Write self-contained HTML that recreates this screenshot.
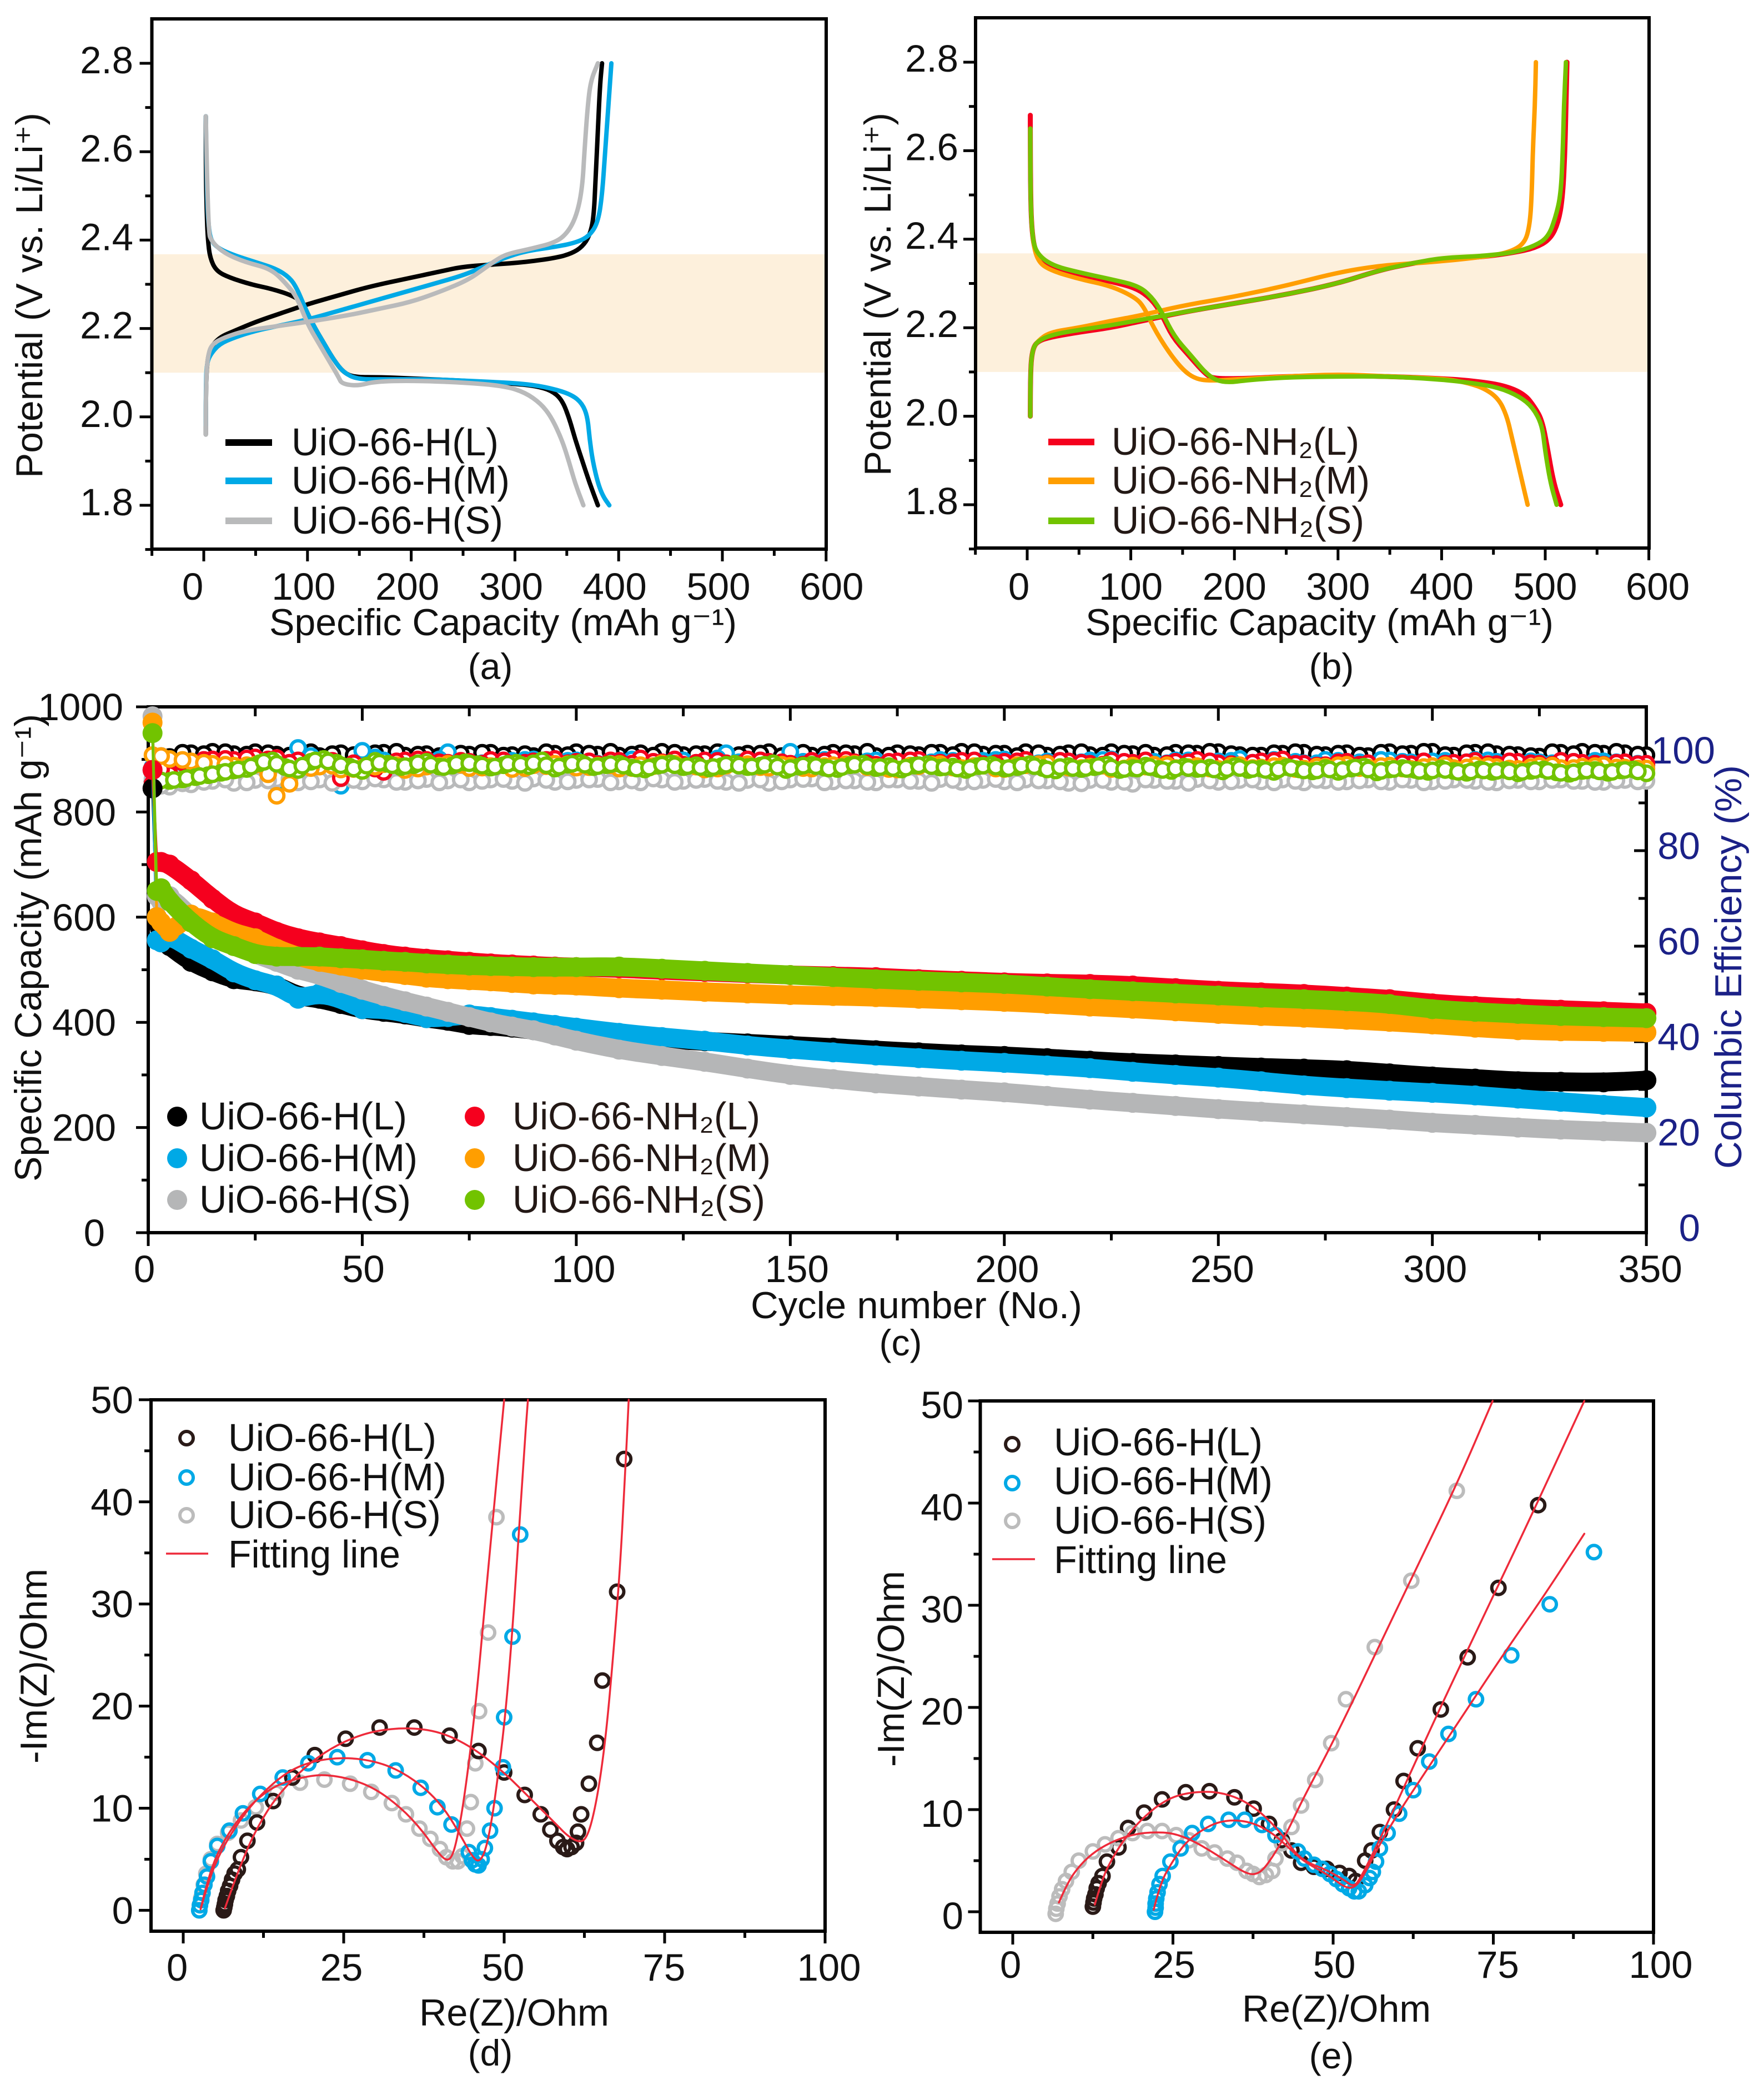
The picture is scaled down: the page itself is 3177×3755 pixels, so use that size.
<!DOCTYPE html>
<html lang="en">
<head>
<meta charset="utf-8">
<title>UiO-66 electrochemical performance</title>
<style>
html,body{margin:0;padding:0;background:#fff;}
svg{display:block;font-family:"Liberation Sans",Arial,sans-serif;}
text{fill:#111;}
.tk{font-size:69px;}
.ttl{font-size:68px;}
.cap{font-size:66px;}
.leg{font-size:70px;}
.nh{fill:#231815;}
.blu{fill:#1b2187;}
</style>
</head>
<body>
<svg id="fig" xmlns="http://www.w3.org/2000/svg" width="3177" height="3755" viewBox="0 0 3177 3755">
<rect width="3177" height="3755" fill="#fff"/>

<g id="pa"></g>
<g id="pb"></g>
<g id="pc"></g>
<g id="pd"></g>
<g id="pe"></g>

<!-- Panel a titles and legend -->
<text class="ttl" transform="translate(76,861) rotate(-90)" textLength="658" lengthAdjust="spacingAndGlyphs">Potential (V vs. Li/Li⁺)</text>
<text class="ttl" x="485" y="1144" textLength="842" lengthAdjust="spacingAndGlyphs">Specific Capacity (mAh g⁻¹)</text>
<text class="cap" x="883" y="1223" text-anchor="middle">(a)</text>
<line x1="406" x2="490" y1="797" y2="797" stroke="#000" stroke-width="12"/>
<line x1="406" x2="490" y1="866" y2="866" stroke="#00a9e6" stroke-width="12"/>
<line x1="406" x2="490" y1="938" y2="938" stroke="#b9babb" stroke-width="12"/>
<text class="leg" x="525" y="820" textLength="373" lengthAdjust="spacingAndGlyphs">UiO-66-H(L)</text>
<text class="leg" x="525" y="889" textLength="393" lengthAdjust="spacingAndGlyphs">UiO-66-H(M)</text>
<text class="leg" x="525" y="961" textLength="381" lengthAdjust="spacingAndGlyphs">UiO-66-H(S)</text>

<!-- Panel b titles and legend -->
<text class="ttl" transform="translate(1604,857) rotate(-90)" textLength="654" lengthAdjust="spacingAndGlyphs">Potential (V vs. Li/Li⁺)</text>
<text class="ttl" x="1955" y="1144" textLength="843" lengthAdjust="spacingAndGlyphs">Specific Capacity (mAh g⁻¹)</text>
<text class="cap" x="2398" y="1223" text-anchor="middle">(b)</text>
<line x1="1888" x2="1971" y1="796" y2="796" stroke="#f5001e" stroke-width="12"/>
<line x1="1888" x2="1971" y1="866" y2="866" stroke="#ff9e00" stroke-width="12"/>
<line x1="1888" x2="1971" y1="938" y2="938" stroke="#72c300" stroke-width="12"/>
<text class="leg nh" x="2002" y="819" textLength="446" lengthAdjust="spacingAndGlyphs">UiO-66-NH₂(L)</text>
<text class="leg nh" x="2002" y="889" textLength="465" lengthAdjust="spacingAndGlyphs">UiO-66-NH₂(M)</text>
<text class="leg nh" x="2002" y="961" textLength="455" lengthAdjust="spacingAndGlyphs">UiO-66-NH₂(S)</text>

<!-- Panel c titles and legend -->
<text class="ttl" transform="translate(74,2128) rotate(-90)" textLength="842" lengthAdjust="spacingAndGlyphs">Specific Capacity (mAh g⁻¹)</text>
<text class="ttl blu" transform="translate(3136,2105) rotate(-90)" textLength="727" lengthAdjust="spacingAndGlyphs">Columbic Efficiency (%)</text>
<text class="ttl" x="1352" y="2374" textLength="597" lengthAdjust="spacingAndGlyphs">Cycle number (No.)</text>
<text class="cap" x="1622" y="2441" text-anchor="middle">(c)</text>
<circle cx="319" cy="2011" r="18" fill="#000"/>
<circle cx="319" cy="2086" r="18" fill="#00a9e6"/>
<circle cx="319" cy="2161" r="18" fill="#b5b6b7"/>
<circle cx="855" cy="2011" r="18" fill="#f5001e"/>
<circle cx="855" cy="2086" r="18" fill="#ff9e00"/>
<circle cx="855" cy="2161" r="18" fill="#72c300"/>
<text class="leg" x="359" y="2034" textLength="374" lengthAdjust="spacingAndGlyphs">UiO-66-H(L)</text>
<text class="leg" x="359" y="2109" textLength="393" lengthAdjust="spacingAndGlyphs">UiO-66-H(M)</text>
<text class="leg" x="359" y="2184" textLength="381" lengthAdjust="spacingAndGlyphs">UiO-66-H(S)</text>
<text class="leg nh" x="923" y="2034" textLength="446" lengthAdjust="spacingAndGlyphs">UiO-66-NH₂(L)</text>
<text class="leg nh" x="923" y="2109" textLength="465" lengthAdjust="spacingAndGlyphs">UiO-66-NH₂(M)</text>
<text class="leg nh" x="923" y="2184" textLength="455" lengthAdjust="spacingAndGlyphs">UiO-66-NH₂(S)</text>

<!-- Panel d titles and legend -->
<text class="ttl" transform="translate(84,3176) rotate(-90)" textLength="351" lengthAdjust="spacingAndGlyphs">-Im(Z)/Ohm</text>
<text class="ttl" x="755" y="3648" textLength="342" lengthAdjust="spacingAndGlyphs">Re(Z)/Ohm</text>
<text class="cap" x="883" y="3720" text-anchor="middle">(d)</text>
<circle cx="336" cy="2590" r="12" fill="none" stroke="#2a1a17" stroke-width="6"/>
<circle cx="336" cy="2661" r="12" fill="none" stroke="#00a9e6" stroke-width="6"/>
<circle cx="336" cy="2729" r="12" fill="none" stroke="#bcbcbc" stroke-width="6"/>
<line x1="299" x2="375" y1="2798" y2="2798" stroke="#ee2a3a" stroke-width="3.5"/>
<text class="leg" x="411" y="2613" textLength="375" lengthAdjust="spacingAndGlyphs">UiO-66-H(L)</text>
<text class="leg" x="411" y="2684" textLength="393" lengthAdjust="spacingAndGlyphs">UiO-66-H(M)</text>
<text class="leg" x="411" y="2752" textLength="383" lengthAdjust="spacingAndGlyphs">UiO-66-H(S)</text>
<text class="leg" x="411" y="2823" textLength="310" lengthAdjust="spacingAndGlyphs">Fitting line</text>

<!-- Panel e titles and legend -->
<text class="ttl" transform="translate(1628,3182) rotate(-90)" textLength="353" lengthAdjust="spacingAndGlyphs">-Im(Z)/Ohm</text>
<text class="ttl" x="2237" y="3641" textLength="340" lengthAdjust="spacingAndGlyphs">Re(Z)/Ohm</text>
<text class="cap" x="2398" y="3725" text-anchor="middle">(e)</text>
<circle cx="1823" cy="2601" r="12" fill="none" stroke="#2a1a17" stroke-width="6"/>
<circle cx="1823" cy="2671" r="12" fill="none" stroke="#00a9e6" stroke-width="6"/>
<circle cx="1823" cy="2739" r="12" fill="none" stroke="#bcbcbc" stroke-width="6"/>
<line x1="1787" x2="1864" y1="2808" y2="2808" stroke="#ee2a3a" stroke-width="3.5"/>
<text class="leg" x="1898" y="2621" textLength="376" lengthAdjust="spacingAndGlyphs">UiO-66-H(L)</text>
<text class="leg" x="1898" y="2691" textLength="394" lengthAdjust="spacingAndGlyphs">UiO-66-H(M)</text>
<text class="leg" x="1898" y="2762" textLength="383" lengthAdjust="spacingAndGlyphs">UiO-66-H(S)</text>
<text class="leg" x="1898" y="2833" textLength="312" lengthAdjust="spacingAndGlyphs">Fitting line</text>
</svg>

<script>
/* ---------- Panel a data: capacity (mAh/g) and potential (V) ---------- */
const aLDisX=[2,2,3,4,6,12,25,45,65,85,95,105,115,125,135,145,170,200,250,300,320,335,345,352,358,365,372,380];
const aLDisY=[2.68,2.55,2.45,2.40,2.36,2.33,2.315,2.30,2.29,2.275,2.26,2.21,2.17,2.13,2.10,2.09,2.09,2.087,2.082,2.075,2.07,2.06,2.04,2.0,1.95,1.9,1.85,1.80];
const aLChgX=[2,2,3,6,15,30,50,75,100,130,160,200,230,250,280,310,340,355,365,372,376,378,380,382,384];
const aLChgY=[1.96,2.05,2.12,2.155,2.18,2.195,2.215,2.235,2.255,2.275,2.295,2.315,2.33,2.34,2.345,2.35,2.36,2.37,2.385,2.41,2.45,2.55,2.65,2.75,2.80];
const aMDisX=[2,3,5,8,15,30,50,70,83,90,97,105,115,125,135,148,175,220,270,310,335,355,365,370,372,375,380,385,391];
const aMDisY=[2.68,2.50,2.42,2.395,2.38,2.365,2.35,2.335,2.315,2.29,2.25,2.21,2.17,2.13,2.10,2.085,2.085,2.085,2.08,2.075,2.065,2.05,2.03,2.0,1.95,1.90,1.85,1.82,1.80];
const aMChgX=[2,2,3,6,15,30,50,70,100,130,160,190,220,250,270,290,310,340,360,372,380,384,387,390,393];
const aMChgY=[1.98,2.08,2.12,2.14,2.165,2.18,2.195,2.205,2.22,2.24,2.26,2.28,2.30,2.32,2.34,2.36,2.375,2.385,2.395,2.41,2.44,2.5,2.6,2.7,2.8];
const aSDisX=[2,4,8,20,40,65,80,90,100,110,120,130,133,148,165,200,250,290,310,325,335,345,352,358,366];
const aSDisY=[2.68,2.42,2.395,2.37,2.35,2.335,2.30,2.27,2.21,2.17,2.13,2.09,2.075,2.07,2.08,2.082,2.078,2.07,2.055,2.03,2.0,1.95,1.90,1.85,1.80];
const aSChgX=[2,2,4,8,20,40,70,100,140,170,200,230,255,270,285,295,315,340,352,360,365,367,370,373,380];
const aSChgY=[1.96,2.08,2.14,2.165,2.18,2.195,2.205,2.215,2.23,2.245,2.26,2.285,2.31,2.335,2.36,2.37,2.38,2.395,2.42,2.46,2.52,2.6,2.7,2.76,2.80];

/* ---------- Panel b data ---------- */
const bLDisX=[3,3,5,10,25,50,80,105,120,130,140,155,172,180,210,250,300,350,400,430,460,480,490,497,502,508,515];
const bLDisY=[2.68,2.5,2.4,2.36,2.335,2.32,2.305,2.29,2.265,2.23,2.18,2.14,2.095,2.085,2.085,2.09,2.092,2.09,2.085,2.08,2.07,2.05,2.02,1.99,1.93,1.85,1.80];
const bLChgX=[3,3,5,10,25,50,80,110,150,200,250,300,340,370,400,440,470,490,505,513,517,519,520,521];
const bLChgY=[2.0,2.1,2.15,2.17,2.18,2.19,2.2,2.215,2.235,2.255,2.275,2.30,2.33,2.345,2.355,2.36,2.37,2.38,2.40,2.44,2.5,2.6,2.7,2.8];
const bMDisX=[3,3,5,10,22,50,80,103,112,122,135,150,162,175,200,250,300,350,400,420,440,455,463,468,473,478,483];
const bMDisY=[2.65,2.5,2.4,2.35,2.33,2.31,2.295,2.27,2.25,2.20,2.15,2.105,2.085,2.08,2.083,2.09,2.095,2.09,2.085,2.078,2.065,2.04,2.0,1.95,1.90,1.85,1.80];
const bMChgX=[3,3,5,10,22,50,80,110,150,200,250,300,340,370,400,440,465,480,485,487,488,490,491];
const bMChgY=[2.0,2.1,2.15,2.17,2.19,2.2,2.215,2.228,2.25,2.27,2.295,2.325,2.34,2.345,2.35,2.36,2.37,2.39,2.43,2.5,2.6,2.7,2.8];
const bSDisX=[3,3,5,10,25,50,80,107,120,130,142,157,175,190,215,250,300,350,400,430,455,475,488,497,500,505,511];
const bSDisY=[2.65,2.5,2.4,2.365,2.34,2.325,2.31,2.295,2.27,2.235,2.18,2.14,2.09,2.075,2.082,2.088,2.09,2.09,2.083,2.075,2.065,2.045,2.02,1.98,1.92,1.85,1.80];
const bSChgX=[3,3,5,10,25,50,80,110,150,200,250,300,340,370,400,440,470,490,503,510,515,517,518,520];
const bSChgY=[2.0,2.1,2.15,2.17,2.185,2.195,2.205,2.218,2.235,2.255,2.275,2.30,2.33,2.345,2.358,2.362,2.37,2.385,2.405,2.45,2.5,2.6,2.7,2.8];

/* ---------- Panel c data: cycle number, capacity, coulombic efficiency ---------- */
const capCycles=[1,2,3,5,10,15,20,25,30,35,40,45,50,55,60,65,70,75,80,85,90,95,100,110,120,130,140,150,160,170,180,190,200,210,220,230,240,250,260,270,280,290,300,310,320,330,340,350];
const capHL=[845,600,560,545,515,497,482,478,470,450,445,435,425,420,415,408,403,395,393,390,385,381,378,373,368,364,360,356,352,347,343,339,336,332,327,323,320,317,314,312,309,303,297,293,288,287,286,290];
const capHM=[880,556,552,565,540,520,495,480,470,445,455,445,425,425,418,408,410,415,410,405,400,395,390,380,372,365,356,349,343,337,332,327,323,318,313,306,300,295,288,280,275,270,266,261,255,249,243,238];
const capHS=[982,640,630,640,600,565,545,530,515,500,490,475,462,450,440,430,420,410,400,392,385,375,365,348,336,325,312,300,292,284,278,272,267,260,253,247,241,235,230,225,220,215,209,205,200,196,193,190];
const capNL=[880,705,705,700,670,635,605,590,572,560,552,545,537,530,525,521,518,515,512,510,508,506,505,503,499,496,493,490,488,486,482,479,476,474,473,470,465,460,457,454,449,444,436,431,427,424,421,418];
const capNM=[970,600,590,572,605,590,570,560,540,525,515,508,500,495,490,485,482,480,478,475,472,471,470,465,462,458,455,452,450,448,445,442,439,435,430,426,421,416,412,409,405,401,396,390,385,383,382,381];
const capNS=[950,650,655,630,590,560,545,530,525,525,525,522,520,517,515,512,510,508,507,506,505,505,505,506,502,498,494,490,486,482,479,476,473,468,463,459,455,451,447,444,440,435,425,420,416,412,410,408];

const ceCycles=[1,5,10,15,20,25,30,35,40,45,50,55,60,65,70,75,80,85,90,95,100,105,110,115,120,125,130,135,140,145,150,155,160,165,170,175,180,185,190,195,200,205,210,215,220,225,230,235,240,245,250,255,260,265,270,275,280,285,290,295,300,305,310,315,320,325,330,335,340,345,350];
const ceHL=[94.5,99.6,100.4,100.7,100.2,100.6,100.1,100.3,99.8,100.4,100.0,100.5,99.9,100.2,99.7,100.1,100.5,100.0,99.8,100.3,100.6,100.1,99.9,100.4,100.7,100.0,100.2,99.8,100.3,100.6,100.1,99.9,100.5,100.2,99.8,100.4,100.0,100.5,100.7,100.1,100.3,100.6,99.9,100.4,100.0,100.6,100.2,99.9,100.5,100.3,100.6,100.0,99.9,100.3,100.5,100.0,100.4,99.8,100.6,100.3,100.7,99.9,100.5,100.2,100.0,99.7,100.5,100.7,100.3,100.4,100.0];
const ceHM=[97.5,98.2,98.6,99.0,98.7,98.3,94.2,101.5,98.8,93.6,100.9,98.9,98.2,98.7,100.6,98.5,98.0,98.8,99.1,98.4,98.9,98.2,98.6,99.0,98.5,98.9,98.2,100.4,98.6,98.3,100.7,98.5,98.8,98.2,98.9,98.4,98.7,99.0,98.3,98.8,99.1,98.4,98.7,98.2,98.9,99.1,98.4,98.6,98.9,98.3,98.7,99.2,98.5,98.8,98.3,99.0,98.6,98.2,98.9,98.5,98.7,98.3,99.0,98.6,98.2,98.5,98.8,98.4,98.7,98.3,97.9];
const ceHS=[95.0,93.4,93.9,94.6,94.2,94.8,95.0,94.3,94.9,95.1,94.5,94.9,94.4,95.0,94.7,94.3,94.9,94.6,95.1,94.4,94.8,95.0,94.5,94.3,94.9,94.6,95.0,94.4,94.8,94.2,94.9,95.1,94.5,94.7,94.3,94.9,94.6,95.0,94.4,94.8,94.5,94.9,94.7,94.2,94.8,94.4,94.0,94.8,94.6,95.0,94.4,94.8,94.5,94.9,94.3,94.7,94.5,94.9,94.4,94.8,94.5,94.9,94.6,94.3,94.8,94.5,94.9,94.6,94.4,94.8,94.6];
const ceNL=[94.0,96.0,98.3,99.1,99.0,99.5,99.4,98.9,98.2,95.2,97.5,96.5,98.9,99.0,98.4,98.6,99.0,98.2,98.7,99.2,98.6,98.1,98.8,99.3,98.5,98.0,98.9,98.3,99.1,98.6,98.2,98.8,99.2,98.5,98.0,98.7,99.0,98.4,98.8,98.1,98.6,99.0,98.3,98.7,98.2,98.9,98.4,97.5,98.6,99.0,98.3,97.8,98.7,99.1,98.2,97.9,98.6,98.3,97.4,98.1,97.2,98.4,98.8,98.1,98.6,98.2,98.8,98.4,98.0,98.5,98.2];
const ceNM=[100.0,99.2,98.7,98.2,97.8,98.0,91.5,97.0,97.6,97.0,97.4,98.1,96.9,97.6,98.2,97.3,97.7,97.1,97.9,98.2,97.4,97.8,97.2,97.9,98.3,97.5,97.0,97.8,98.1,97.4,97.8,97.2,97.9,98.2,97.5,97.0,97.7,98.1,97.3,97.8,97.1,97.9,98.2,97.4,97.6,97.1,97.8,98.0,97.3,97.7,97.1,97.9,97.4,97.8,97.2,97.6,98.0,97.4,97.8,97.1,97.7,97.3,97.9,97.5,97.1,97.8,97.3,97.6,97.9,97.4,97.2];
const ceNS=[95.0,94.6,94.9,95.4,95.8,96.3,96.8,97.1,98.3,98.9,97.5,96.9,98.6,99.2,98.4,97.6,96.7,98.8,98.2,97.5,97.9,98.6,97.6,97.8,98.5,98.1,97.4,97.9,98.4,97.7,98.9,97.2,98.0,98.4,97.5,97.9,98.2,97.4,97.0,97.8,98.3,97.5,97.9,97.2,97.7,98.2,97.5,97.8,98.3,96.9,97.6,98.0,97.4,97.1,97.9,98.2,97.3,97.7,97.0,97.8,98.1,97.4,97.6,96.9,97.7,98.0,97.2,97.5,98.1,97.3,96.8,97.7,97.1,97.5,98.0,96.9,97.3,97.8,97.1,96.7,97.6,97.1,97.4,96.6,97.7,96.9,97.2,96.5,97.5,97.0,96.6,97.3,96.5,97.2,97.6,96.4,97.0,97.3,96.9,96.5,97.2,96.7,96.3,97.0,96.5,96.9,96.2,96.7,97.0,96.4,96.1,96.7,96.9,96.3,96.8,97.0,96.2];
/* In-between cycles of each efficiency series */
const ceHLmid=[99.8,100.5,100.2,100.6,100.1,100.4,99.9,100.6,100.2,100.0,100.4,100.7,100.1,99.8,100.3,100.5,99.9,100.2,100.6,100.0,100.3,100.7,100.1,99.9,100.5,100.2,100.6,100.0,100.3,99.8,100.5,100.1,100.4,100.7,99.9,100.2,100.5,100.0,100.6,100.3,99.8,100.4,100.1,100.6,99.9,100.3,100.5,100.0,100.4,100.7,100.2,99.9,100.4,100.6,100.1,100.3,99.9,100.5,100.2,100.7,100.0,100.4,100.6,100.1,99.8,100.6,100.2,100.5,100.7,100.1];
const ceHMmid=[98.0,98.4,98.8,98.5,98.9,96.0,97.5,99.8,98.0,97.0,99.5,98.6,98.3,99.1,98.7,98.3,98.6,99.0,98.5,98.8,98.3,98.7,99.1,98.4,98.8,98.2,99.3,98.5,98.9,98.3,98.6,99.0,98.4,98.7,98.2,98.9,98.5,98.8,98.3,99.0,98.6,98.3,98.8,98.5,99.0,98.4,98.7,98.3,98.9,98.5,98.8,98.4,99.0,98.6,98.3,98.8,98.5,99.0,98.6,98.3,98.8,98.5,98.9,98.4,98.7,98.3,98.6,98.8,98.5,98.2];
const ceHSmid=[93.6,94.1,94.4,94.9,94.3,94.7,95.0,94.5,94.2,94.8,95.1,94.4,94.7,94.3,94.9,94.6,95.0,94.2,94.8,94.5,94.9,94.3,94.7,95.1,94.4,94.8,94.6,94.2,94.9,94.5,95.0,94.3,94.7,94.4,94.9,94.6,94.2,94.8,94.5,95.0,94.3,94.7,94.5,94.1,94.8,94.4,94.9,94.6,94.2,94.7,94.5,94.9,94.3,94.6,94.8,94.4,94.7,94.5,94.9,94.3,94.6,94.8,94.4,94.7,94.5,94.8,94.6,94.4,94.7,94.5];
const ceNLmid=[97.0,98.5,99.0,99.2,99.3,99.1,98.4,97.9,98.8,98.3,97.2,98.7,99.1,98.5,98.8,98.2,98.9,98.4,99.0,98.3,98.7,98.9,98.2,98.6,99.1,98.4,98.8,98.1,98.9,98.5,98.0,98.7,99.0,98.3,98.6,98.9,98.2,98.5,98.9,98.3,98.7,98.1,98.8,98.4,98.0,98.6,98.9,98.2,98.5,98.7,98.1,98.4,98.8,98.2,97.8,98.5,98.0,97.6,98.3,98.7,98.2,98.5,98.1,98.7,98.3,98.0,98.6,98.2,98.4,98.1];
const ceNMmid=[99.8,99.0,98.4,98.0,97.9,96.0,94.0,97.3,97.8,97.1,97.6,97.9,97.2,97.8,98.0,97.4,97.9,97.3,97.7,98.1,97.5,97.9,97.3,97.7,98.2,97.6,97.2,97.9,97.5,98.0,97.3,97.7,98.1,97.5,97.1,97.8,98.0,97.4,97.7,97.2,97.9,98.1,97.5,97.3,97.8,97.2,97.6,97.9,97.5,97.2,97.8,97.3,97.7,97.1,97.6,97.9,97.3,97.7,97.2,97.5,97.9,97.4,97.7,97.2,97.5,97.8,97.3,97.7,97.4,97.2];
const ceNSmid=[94.7,94.8,95.2,95.6,96.0,96.5,97.0,97.6,98.6,98.2,97.2,97.8,98.9,98.7,97.9,97.2,97.8,98.4,97.9,97.7,98.3,98.0,97.5,98.2,98.3,97.8,97.6,98.2,98.0,98.3,97.9,97.6,98.2,98.0,97.7,98.1,97.8,97.2,97.4,98.0,97.9,97.7,97.5,97.5,98.0,97.8,97.6,98.0,97.6,97.3,97.8,97.7,97.2,97.5,98.0,97.7,97.5,97.3,97.4,97.9,97.7,97.5,97.2,97.3,97.8,97.6,97.3,97.8,97.7,97.0,97.5,97.3,97.3,97.7,97.4,97.1,97.2,97.5,96.9,97.2,97.3,97.2,97.0,97.1,97.3,97.1,96.9,97.0,97.3,96.8,96.8,97.0,96.9,97.4,97.0,96.7,97.1,97.1,96.7,96.8,96.9,96.5,96.6,96.8,96.7,96.6,96.5,96.9,96.7,96.3,96.4,96.8,96.6,96.5,96.9,96.6];

/* ---------- Panel d data: Re(Z), -Im(Z) ---------- */
const dLRe=[6.3,6.4,6.5,6.6,6.8,7,7.3,7.6,8,8.5,9,10,11.5,14,17,20.5,25.3,30.6,36,41.5,46,50,53.2,55.7,57.2,58.3,59.2,59.8,60.5,61.2,61.5,62,63.2,64.5,65.3,67.6,68.7];
const dLIm=[0,0.3,0.6,1,1.4,1.9,2.4,3,3.6,4,5.2,6.8,8.6,10.7,13,15.2,16.8,17.9,17.9,17.1,15.6,13.5,11.3,9.4,7.9,6.8,6.2,6,6.2,6.6,7.7,9.4,12.4,16.4,22.5,31.2,44.2];
const dMRe=[2.5,2.6,2.8,3,3.3,3.7,4.3,5.3,7.2,9.3,12,15.5,19.5,24,28.7,33.1,37,39.6,41.8,44.5,45,45.5,46,46.5,47,47.8,48.5,49.8,50,51.3,52.5];
const dMIm=[0,0.5,1,1.7,2.5,3.3,4.8,6.3,7.8,9.5,11.4,13,14.4,15,14.7,13.7,12,10.1,8.4,5.7,4.9,4.5,4.4,5,6.1,7.8,10,14,18.9,26.8,36.8];
const dSRe=[2.5,2.6,2.8,3.2,3.6,4.3,5.3,7,9,11.3,14.5,18.2,22,26,29.3,32.5,34.7,36.8,38.5,40,41,42,42.8,43.5,44.2,44.8,45.5,46.1,47.5,48.8];
const dSIm=[0,0.5,1.2,2.5,3.6,5,6.5,7.6,8.8,10.1,11.5,12.5,12.8,12.4,11.6,10.5,9.4,8,7,6,5.2,4.8,4.8,5.3,8,10.6,14.4,19.5,27.2,38.5];
const dFitLRe=[6.5,7.5,9,11,14,18,22,26,30,35,40,45,50,54,58,60,62,63,64,65,66,67,68,68.8,69.4];
const dFitLIm=[0.2,2,4.5,7.5,10.7,13.5,15.5,16.8,17.6,17.9,17.5,16,13.5,11,8.5,7.2,6.6,7.3,9.5,13,18,25,33,42,50];
const dFitMRe=[2.8,4,6,9,12,16,20,25,30,34,38,41,43.5,45,46,47,48,49,50,51,52,53,53.7];
const dFitMIm=[0.3,3,6,9,11.3,13.5,14.6,15,14.6,13.6,11.8,9.7,7,5.3,4.7,5.6,8.5,13,18,25,34,44,50];
const dFitSRe=[2.7,4,6,9,12,15,19,22,26,30,34,37,39.5,41,42,43,44,45,46,47,48.5,50];
const dFitSIm=[0.1,3.5,6.5,9.3,11.2,12.4,13.1,13.3,12.9,11.9,10,8,5.8,4.8,5.3,8,12,17,23,30,40,50];

/* ---------- Panel e data ---------- */
const eLRe=[12.5,12.6,12.7,12.9,13.1,13.4,14,14.7,16.5,18,20.5,23.3,27,30.7,34.6,37.6,40,42,43.5,45,47,49,51,52.5,53.5,55,56,57.3,59.5,61,63.2,66.8,71,75.8,82];
const eLIm=[0.5,0.9,1.3,1.7,2.3,2.8,3.5,4.9,6.3,8.2,9.7,11,11.7,11.8,11.2,10.1,8.6,7,6,4.8,4.4,4.2,3.8,3.5,3,5,6,7.8,10,12.8,16,19.8,24.9,31.7,39.8];
const eMRe=[22.2,22.3,22.3,22.4,22.6,22.9,23.4,24.6,26.2,28,30.5,33.7,36.2,38.9,41,44.5,45.5,47,48.3,49.5,50.5,51.5,52.5,53.3,54,55,55.7,56.2,56.7,57.3,58.5,60.3,62.5,65,68,72.3,77.8,83.8,90.7];
const eMIm=[0,0.4,0.8,1.3,1.9,2.7,3.5,4.9,6.2,7.7,8.6,9,9,8.5,7.5,5.9,5.2,4.6,4.2,3.7,3.2,2.7,2.3,2,2,2.6,3.3,3.9,4.9,6.2,7.7,9.6,11.9,14.7,17.4,20.8,25.1,30.1,35.2];
const eSRe=[6.7,6.8,7,7.3,7.7,8.3,9.2,10.3,12.5,14.4,16.5,18.7,21,23.3,25.5,27.5,29.5,31.5,33.5,35,36.5,37.5,38.5,39.5,40.5,41,42,43.5,45,47.2,49.7,52,56.5,62.2,69.3];
const eSIm=[-0.2,0.3,0.8,1.5,2.2,3,3.9,5,5.9,6.6,7.2,7.7,7.9,7.9,7.5,7,6.2,5.8,5.2,4.8,4,3.7,3.4,3.6,4,5.2,6.7,8.3,10.4,12.9,16.5,20.8,25.9,32.4,41.2];
const eFitLRe=[12.8,14,15.5,17.5,20,23,26,30,33,36,39,42,44,46,49,52,53,54,58,62,66,72,80,89.2];
const eFitLIm=[0.7,3.3,5.2,7.2,9,10.6,11.5,11.8,11.6,10.9,9.6,7.6,5.8,4.8,4.1,3,2.5,2.9,8,13.5,19,27,37.5,50];
const eFitMRe=[22,23,25,27,29.5,32,35,38,41,44,46,49,52,53.5,55,57,60,64,70,77,83,89.2];
const eFitMIm=[0.2,2.8,5,6.8,8,8.8,9,8.6,7.5,5.7,4.7,3.7,2.3,2.4,3.8,6.3,9.5,13.3,19,25.6,31,37];
const eFitSRe=[7.2,8.5,10.5,13,16,19,22,25,28,31,34,36,37.5,39,41,43,45,50.3,56.8,62.2,69.2,74.9];
const eFitSIm=[0.9,2.8,4.6,6,7,7.6,7.8,7.7,7,5.9,4.7,3.9,3.6,4,5.8,8,10.7,17,25.5,32.6,41.7,50];

/* ---------- Tick values and labels ---------- */
const abXTicks=[0,100,200,300,400,500,600];
const abXMinor=[-50,50,150,250,350,450,550];
const abXLabels=['0','100','200','300','400','500','600'];
const abYTicks=[1.8,2.0,2.2,2.4,2.6,2.8];
const abYMinor=[1.7,1.9,2.1,2.3,2.5,2.7];
const abYLabels=['1.8','2.0','2.2','2.4','2.6','2.8'];
const bandLow=2.10, bandHigh=2.368;
const cXTicks=[0,50,100,150,200,250,300,350];
const cXMinor=[25,75,125,175,225,275,325];
const cXLabels=['0','50','100','150','200','250','300','350'];
const cYTicks=[0,200,400,600,800,1000];
const cYMinor=[100,300,500,700,900];
const cYLabels=['0','200','400','600','800','1000'];
const ceTicks=[0,20,40,60,80,100];
const ceMinor=[10,30,50,70,90];
const ceLabels=['0','20','40','60','80','100'];
const deXTicks=[0,25,50,75,100];
const deXMinor=[12.5,37.5,62.5,87.5];
const deXLabels=['0','25','50','75','100'];
const deYTicks=[0,10,20,30,40,50];
const deYMinor=[5,15,25,35,45];
const deYLabels=['0','10','20','30','40','50'];

/* ---------- Axis functions ---------- */
const xa=v=>367+v*1.868, ya=v=>114+(2.8-v)*796;
const xb=v=>1850+v*1.866, yb=v=>112+(2.8-v)*797;
const xc=v=>267+v*7.709, yc=v=>2220-v*0.947, yce=v=>2220-v*8.6;
const xd=v=>330+v*11.56, yd=v=>3440.4-v*18.39;
const xe=v=>1824+v*11.54, ye=v=>3443-v*18.4;

const NS='http://www.w3.org/2000/svg';
const BLACK='#000', BLUE='#00a9e6', GREY='#b9babb', RED='#f5001e', ORANGE='#ff9e00', GREEN='#72c300', FIT='#ee2a3a', DARK='#2a1a17', RINGGREY='#bcbcbc', NAVY='#1b2187';

function mk(tag,parent,props){
  const el=document.createElementNS(NS,tag);
  for(const k in props){el.setAttribute(k,props[k]);}
  parent.appendChild(el);
  return el;
}
/* Rounded line through the typed points (corners softened by midpoint quadratics) */
function path(xs,ys,fx,fy){
  const px=xs.map(fx), py=ys.map(fy), n=xs.length;
  let d='M'+px[0].toFixed(1)+' '+py[0].toFixed(1);
  for(let i=1;i<n-1;i++){
    const mx=(px[i]+px[i+1])/2, my=(py[i]+py[i+1])/2;
    d+='Q'+px[i].toFixed(1)+' '+py[i].toFixed(1)+' '+mx.toFixed(1)+' '+my.toFixed(1);
  }
  d+='L'+px[n-1].toFixed(1)+' '+py[n-1].toFixed(1);
  return d;
}
function curve(parent,xs,ys,fx,fy,color,width,name){
  const el=mk('path',parent,{d:path(xs,ys,fx,fy),fill:'none',stroke:color,'stroke-width':width,'stroke-linejoin':'round','stroke-linecap':'round'});
  
  
  return el;
}
function tickLine(parent,x1,y1,x2,y2,color,name){
  const el=mk('line',parent,{x1:x1,y1:y1,x2:x2,y2:y2,stroke:color,'stroke-width':5});
  
  
  return el;
}
function label(parent,x,y,txt,anchor,color,name){
  const el=mk('text',parent,{x:x,y:y,class:'tk','text-anchor':anchor,style:'fill:'+color});
  el.textContent=txt;
  
  
  return el;
}
function frame(parent,l,t,r,b,name){
  const el=mk('rect',parent,{x:l,y:t,width:r-l,height:b-t,fill:'none',stroke:'#000','stroke-width':6});
  
  
  return el;
}
function rings(parent,xs,ys,fx,fy,color,r,sw,fill,name){
  for(let i=0;i<xs.length;i++){
    const c=mk('circle',parent,{cx:fx(xs[i]).toFixed(1),cy:fy(ys[i]).toFixed(1),r:r,fill:fill,stroke:color,'stroke-width':sw});
    
    
  }
}
function dots(parent,xs,ys,fx,fy,color,r,name){
  for(let i=0;i<xs.length;i++){
    const c=mk('circle',parent,{cx:fx(xs[i]).toFixed(1),cy:fy(ys[i]).toFixed(1),r:r,fill:color});
    
    
  }
}

/* Label nudges (pixels) reproducing the source figure's hand-placed tick labels */
const nudgeAX={0:-20,600:10}, nudgeBX={0:-15,600:16};
const nudgeCX={0:-7,50:2,100:13,150:12,200:5,250:7,300:5,350:7};
const nudgeDX={0:-11,25:-4,50:-2,75:-1,100:7};
const nudgeEX={0:-4,25:2,50:2,75:8,100:13};

function drawVoltagePanel(g,fx,fy,l,t,r,b,nudge,defNudge,yRight,yShift,prefix){
  const band=mk('rect',g,{x:l,y:fy(bandHigh),width:r-l,height:fy(bandLow)-fy(bandHigh),fill:'#fdf0dc'});
  
  
  abXTicks.forEach((v,i)=>{
    tickLine(g,fx(v),b,fx(v),b+22,BLACK,prefix+'-x-tick');
    const dx=(v in nudge)?nudge[v]:defNudge;
    label(g,fx(v)+dx,1080,abXLabels[i],'middle','#111',prefix+'-x-tick-label');
  });
  abXMinor.forEach(v=>{tickLine(g,fx(v),b,fx(v),b+12,BLACK,prefix+'-x-minor-tick');});
  abYTicks.forEach((v,i)=>{
    tickLine(g,l,fy(v),l-22,fy(v),BLACK,prefix+'-y-tick');
    label(g,yRight,fy(v)+yShift,abYLabels[i],'end','#111',prefix+'-y-tick-label');
  });
  abYMinor.forEach(v=>{tickLine(g,l,fy(v),l-12,fy(v),BLACK,prefix+'-y-minor-tick');});
}

/* ---------- Panel a ---------- */
const pa=document.getElementById('pa');
drawVoltagePanel(pa,xa,ya,273.5,34,1488,989,nudgeAX,-7,240,18,'panel-a');
curve(pa,aLDisX,aLDisY,xa,ya,BLACK,8,'uio66-h-l-discharge-curve');
curve(pa,aLChgX,aLChgY,xa,ya,BLACK,8,'uio66-h-l-charge-curve');
curve(pa,aMDisX,aMDisY,xa,ya,BLUE,8,'uio66-h-m-discharge-curve');
curve(pa,aMChgX,aMChgY,xa,ya,BLUE,8,'uio66-h-m-charge-curve');
curve(pa,aSDisX,aSDisY,xa,ya,GREY,8,'uio66-h-s-discharge-curve');
curve(pa,aSChgX,aSChgY,xa,ya,GREY,8,'uio66-h-s-charge-curve');
frame(pa,273.5,34,1488,989,'panel-a-plot-frame');

/* ---------- Panel b ---------- */
const pb=document.getElementById('pb');
drawVoltagePanel(pb,xb,yb,1757,32,2970,987,nudgeBX,0,1726,17,'panel-b');
curve(pb,bLDisX,bLDisY,xb,yb,RED,9,'uio66-nh2-l-discharge-curve');
curve(pb,bLChgX,bLChgY,xb,yb,RED,9,'uio66-nh2-l-charge-curve');
curve(pb,bMDisX,bMDisY,xb,yb,ORANGE,8,'uio66-nh2-m-discharge-curve');
curve(pb,bMChgX,bMChgY,xb,yb,ORANGE,8,'uio66-nh2-m-charge-curve');
curve(pb,bSDisX,bSDisY,xb,yb,GREEN,8,'uio66-nh2-s-discharge-curve');
curve(pb,bSChgX,bSChgY,xb,yb,GREEN,8,'uio66-nh2-s-charge-curve');
frame(pb,1757,32,2970,987,'panel-b-plot-frame');

/* ---------- Panel c ---------- */
const pc=document.getElementById('pc');
const cL=267,cR=2965,cT=1273,cB=2220;
cXTicks.forEach((v,i)=>{
  tickLine(pc,xc(v),cB,xc(v),cB+24,BLACK,'panel-c-x-tick');
  if(v>0&&v<350){tickLine(pc,xc(v),cT,xc(v),cT+25,BLACK,'panel-c-top-tick');}
  label(pc,xc(v)+nudgeCX[v],2309,cXLabels[i],'middle','#111','panel-c-x-tick-label');
});
cXMinor.forEach(v=>{
  tickLine(pc,xc(v),cB,xc(v),cB+14,BLACK,'panel-c-x-minor-tick');
  tickLine(pc,xc(v),cT,xc(v),cT+17,BLACK,'panel-c-top-minor-tick');
});
cYTicks.forEach((v,i)=>{
  tickLine(pc,cL,yc(v),cL-22,yc(v),BLACK,'panel-c-y-tick');
  label(pc,v===1000?222:(v===0?189:209),yc(v)+24,cYLabels[i],'end','#111','panel-c-y-tick-label');
});
cYMinor.forEach(v=>{tickLine(pc,cL,yc(v),cL-12,yc(v),BLACK,'panel-c-y-minor-tick');});
ceTicks.forEach((v,i)=>{
  if(v>0){tickLine(pc,cR,yce(v),cR-22,yce(v),BLACK,'panel-c-right-tick');}
  label(pc,v===100?3089:3062,yce(v)+15,ceLabels[i],'end',NAVY,'panel-c-right-tick-label');
});
ceMinor.forEach(v=>{tickLine(pc,cR,yce(v),cR-14,yce(v),BLACK,'panel-c-right-minor-tick');});
frame(pc,cL,cT,cR,cB,'panel-c-plot-frame');

const cycFive=ceHLmid.map((_,i)=>3+5*i);
const cycThree=ceNS.map((_,i)=>2+3*i);
const cycThreeMid=ceNSmid.map((_,i)=>3+3*i);
rings(pc,ceCycles,ceHL,xc,yce,BLACK,13,6,'#fff','efficiency-h-l-point');
rings(pc,cycFive,ceHLmid,xc,yce,BLACK,13,6,'#fff','efficiency-h-l-point');
rings(pc,ceCycles,ceHM,xc,yce,BLUE,13,6,'#fff','efficiency-h-m-point');
rings(pc,cycFive,ceHMmid,xc,yce,BLUE,13,6,'#fff','efficiency-h-m-point');
rings(pc,ceCycles,ceHS,xc,yce,GREY,13,6,'#fff','efficiency-h-s-point');
rings(pc,cycFive,ceHSmid,xc,yce,GREY,13,6,'#fff','efficiency-h-s-point');
rings(pc,ceCycles,ceNL,xc,yce,RED,13,6,'#fff','efficiency-nh2-l-point');
rings(pc,cycFive,ceNLmid,xc,yce,RED,13,6,'#fff','efficiency-nh2-l-point');
rings(pc,ceCycles,ceNM,xc,yce,ORANGE,13,6,'#fff','efficiency-nh2-m-point');
rings(pc,cycFive,ceNMmid,xc,yce,ORANGE,13,6,'#fff','efficiency-nh2-m-point');
rings(pc,cycThree,ceNS,xc,yce,GREEN,13,6,'#fff','efficiency-nh2-s-point');
rings(pc,cycThreeMid,ceNSmid,xc,yce,GREEN,13,6,'#fff','efficiency-nh2-s-point');

function capacitySeries(vals,color,name){
  curve(pc,capCycles.slice(0,2),vals.slice(0,2),xc,yc,color,5,name+'-first-cycle-line');
  curve(pc,capCycles.slice(1),vals.slice(1),xc,yc,color,34,name+'-band');
  dots(pc,capCycles,vals,xc,yc,color,18,name+'-point');
}
capacitySeries(capHL,BLACK,'capacity-h-l');
capacitySeries(capHM,BLUE,'capacity-h-m');
capacitySeries(capHS,'#b5b6b7','capacity-h-s');
capacitySeries(capNL,RED,'capacity-nh2-l');
capacitySeries(capNM,ORANGE,'capacity-nh2-m');
capacitySeries(capNS,GREEN,'capacity-nh2-s');

/* ---------- Panels d and e ---------- */
function drawNyquistAxes(g,fx,fy,l,t,r,b,nudge,labelBase,yRight,yShift,prefix){
  deXTicks.forEach((v,i)=>{
    tickLine(g,fx(v),b,fx(v),b+22,BLACK,prefix+'-x-tick');
    label(g,fx(v)+nudge[v],labelBase,deXLabels[i],'middle','#111',prefix+'-x-tick-label');
  });
  deXMinor.forEach(v=>{tickLine(g,fx(v),b,fx(v),b+12,BLACK,prefix+'-x-minor-tick');});
  deYTicks.forEach((v,i)=>{
    tickLine(g,l,fy(v),l-22,fy(v),BLACK,prefix+'-y-tick');
    label(g,yRight,fy(v)+yShift,deYLabels[i],'end','#111',prefix+'-y-tick-label');
  });
  deYMinor.forEach(v=>{tickLine(g,l,fy(v),l-12,fy(v),BLACK,prefix+'-y-minor-tick');});
  frame(g,l,t,r,b,prefix+'-plot-frame');
}
const pd=document.getElementById('pd');
drawNyquistAxes(pd,xd,yd,272,2521,1486,3478,nudgeDX,3567,240,24,'panel-d');
rings(pd,dSRe,dSIm,xd,yd,RINGGREY,12,6,'none','panel-d-h-s-point');
rings(pd,dLRe,dLIm,xd,yd,DARK,12,6,'none','panel-d-h-l-point');
rings(pd,dMRe,dMIm,xd,yd,BLUE,12,6,'none','panel-d-h-m-point');
curve(pd,dFitLRe,dFitLIm,xd,yd,FIT,3.5,'panel-d-h-l-fit-line');
curve(pd,dFitMRe,dFitMIm,xd,yd,FIT,3.5,'panel-d-h-m-fit-line');
curve(pd,dFitSRe,dFitSIm,xd,yd,FIT,3.5,'panel-d-h-s-fit-line');

const pe=document.getElementById('pe');
drawNyquistAxes(pe,xe,ye,1765.5,2523,2978,3480,nudgeEX,3562,1735,31,'panel-e');
rings(pe,eLRe,eLIm,xe,ye,DARK,12,6,'none','panel-e-h-l-point');
rings(pe,eSRe,eSIm,xe,ye,RINGGREY,12,6,'none','panel-e-h-s-point');
rings(pe,eMRe,eMIm,xe,ye,BLUE,12,6,'none','panel-e-h-m-point');
curve(pe,eFitLRe,eFitLIm,xe,ye,FIT,3.5,'panel-e-h-l-fit-line');
curve(pe,eFitMRe,eFitMIm,xe,ye,FIT,3.5,'panel-e-h-m-fit-line');
curve(pe,eFitSRe,eFitSIm,xe,ye,FIT,3.5,'panel-e-h-s-fit-line');
</script>
</body>
</html>
